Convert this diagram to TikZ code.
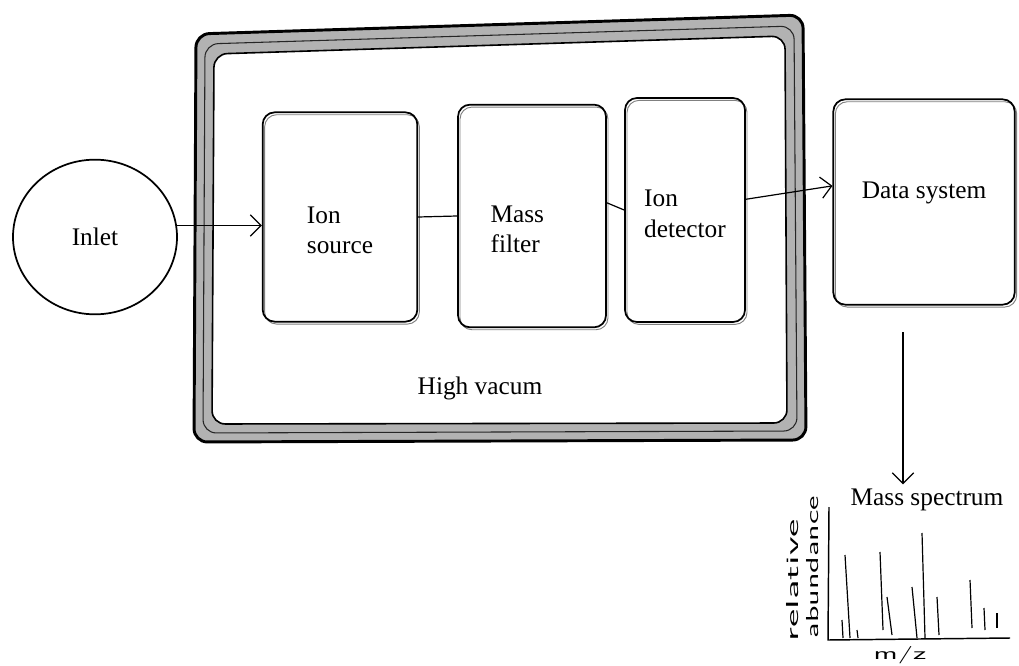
\documentclass[tikz,border=0pt]{standalone}
\usepackage{fontspec}
\setmainfont{Liberation Serif}
\usetikzlibrary{arrows.meta,shapes.geometric}
\begin{document}
\begin{tikzpicture}[x=0.75pt,y=-0.75pt,
  box/.style={draw, line width=1.3pt, rounded corners=9pt, inner sep=0pt,
    preaction={draw, gray, line width=0.7pt, transform canvas={shift={(1.5pt,-1.8pt)}}}},
  lbl/.style={font=\fontsize{19}{23}\selectfont, align=left},
  conn/.style={line width=0.9pt},
  arr/.style={conn, -{Straight Barb[length=8pt,width=16pt,line width=0.9pt]}},
  hand/.style={font=\fontsize{13}{14}\sffamily, inner sep=0pt},
  peak/.style={line width=0.9pt}
]
\useasboundingbox (0,0) rectangle (1019,666);

% high vacuum enclosure
\fill[gray!60, even odd rule, rounded corners=10pt]
  (196,34) -- (803,15) -- (806,440) -- (194,442) -- cycle
  (214,54) -- (785,36) -- (787,423) -- (212,424) -- cycle;
\draw[line width=2.2pt, rounded corners=10pt] (196,34) -- (803,15) -- (806,440) -- (194,442) -- cycle;
\draw[line width=1.2pt, rounded corners=10pt] (214,54) -- (785,36) -- (787,423) -- (212,424) -- cycle;
\draw[line width=0.8pt, gray!30!black, rounded corners=10pt] (205,44) -- (794,26) -- (797,431) -- (203,433) -- cycle;
\node[lbl] (vac) at (480,388) {High vacum};

% components
\node[draw, ellipse, line width=1.3pt, minimum width=123pt, minimum height=116pt, lbl] (inlet) at (95,237) {Inlet};
\node[box, minimum width=116pt, minimum height=157pt] (ionsrc) at (340,217) {};
\node[box, minimum width=111pt, minimum height=167pt] (massf) at (532,216) {};
\node[box, minimum width=90pt, minimum height=168pt] (iondet) at (685,210) {};
\node[box, minimum width=136pt, minimum height=154pt] (datasys) at (924,202) {};
\node[lbl] (ionsrct) at ([yshift=-10pt]ionsrc.center) {Ion\\source};
\node[lbl] (massft) at ([xshift=-11pt,yshift=-10pt]massf.center) {Mass\\filter};
\node[lbl] (iondett) at ([yshift=-3pt]iondet.center) {Ion\\detector};
\node[lbl] (datasyst) at ([yshift=7pt]datasys.center) {Data system};

% connectors
\draw[arr] (inlet.8) -- (inlet.8 -| ionsrc.west);
\draw[conn] (ionsrc.east) -- (massf.west);
\draw[conn] (massf.10) -- (iondet.west);
\draw[arr] (iondet.10) -- (datasys.170);

\node[lbl] (msl) at (927,500) {Mass spectrum};
\coordinate (dstail) at (903,332);
\draw[arr] (dstail) -- (dstail |- msl.north);

% spectrum
\coordinate (orig) at (828,640);
\coordinate (ytop) at (829,507);
\coordinate (xend) at (1010,638);
\draw[line width=1.1pt] (ytop) -- (orig) -- (xend);
\draw[peak] (842,620) -- (843,638);
\draw[peak] (845,555) -- (850,638);
\draw[peak] (857,630) -- (858,638);
\draw[peak] (880,552) -- (883,630);
\draw[peak] (887,597) -- (892,635);
\draw[peak] (912,587) -- (917,638);
\draw[peak] (922,533) -- (925,638);
\draw[peak] (937,597) -- (939,635);
\draw[peak] (970,580) -- (972,628);
\draw[peak] (984,608) -- (985,630);
\draw[peak] (997,613) -- (997,628);
\node[hand, rotate=90] (ylab1) at (793,580) {\scalebox{2.4}[1]{relative}};
\node[hand, rotate=90] (ylab2) at (813,567) {\scalebox{1.9}[1]{abundance}};
\node[hand] (xlab) at (900,655) {\scalebox{1.8}[1]{m/z}};
\end{tikzpicture}
\end{document}
